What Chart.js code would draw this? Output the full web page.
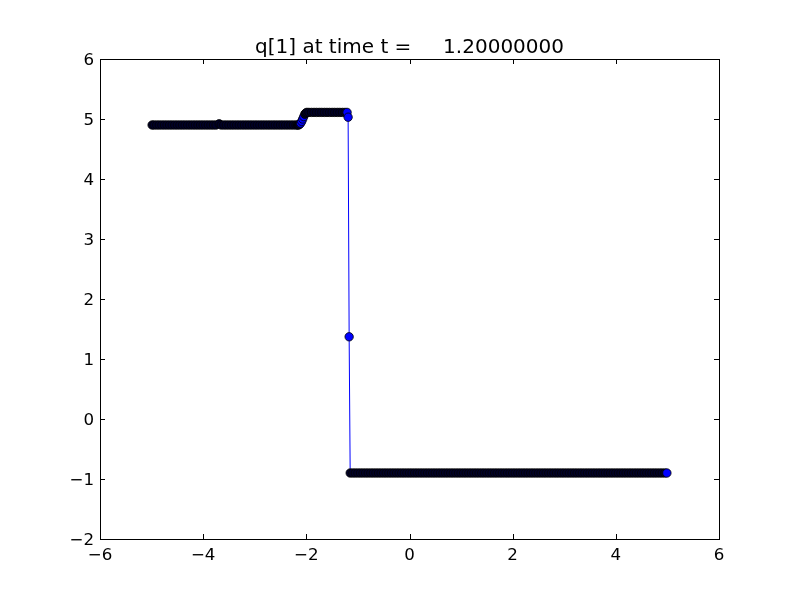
<!DOCTYPE html>
<html lang="en">
<head>
    <meta charset="UTF-8">
    <title>q[1] at time t</title>
    <script src="https://cdn.jsdelivr.net/npm/chart.js"></script>
    <style>
        body { margin: 0; background: #fff; }
        canvas { display: block; }
    </style>
</head>
<body>
    <canvas id="qChart" width="800" height="600"></canvas>

    <script>
        // title text as in the plot
        const titleText = "q[1] at time t =     1.20000000";

        // flat state on the left of the ramp
        const leftLevel = 4.90;
        const leftX = [-4.99, -4.95, -4.90, -4.85, -4.80, -4.75, -4.70, -4.65, -4.60, -4.55,
            -4.50, -4.45, -4.40, -4.35, -4.30, -4.25, -4.20, -4.15, -4.10, -4.05,
            -4.00, -3.95, -3.90, -3.85, -3.80, -3.75, -3.65, -3.60, -3.55,
            -3.50, -3.45, -3.40, -3.35, -3.30, -3.25, -3.20, -3.15, -3.10, -3.05,
            -3.00, -2.95, -2.90, -2.85, -2.80, -2.75, -2.70, -2.65, -2.60, -2.55,
            -2.50, -2.45, -2.40, -2.35, -2.30, -2.25, -2.20];

        // small bump, ramp up to the plateau, and the points inside the jump
        const featureX = [-3.69, -2.17, -2.15, -2.13, -2.11, -2.09, -2.07, -2.05, -2.03, -2.01, -1.19, -1.17];
        const featureY = [4.92, 4.90, 4.90, 4.91, 4.93, 4.96, 5.00, 5.04, 5.08, 5.10, 5.03, 1.37];

        // plateau between ramp and jump
        const plateauLevel = 5.11;
        const plateauX = [-1.99, -1.95, -1.90, -1.85, -1.80, -1.75, -1.70, -1.65, -1.60,
            -1.55, -1.50, -1.45, -1.40, -1.35, -1.30, -1.25, -1.21];

        // state right of the jump
        const rightLevel = -0.90;
        const rightX = [-1.15, -1.10, -1.05, -1.00, -0.95, -0.90, -0.85, -0.80, -0.75, -0.70,
            -0.65, -0.60, -0.55, -0.50, -0.45, -0.40, -0.35, -0.30, -0.25, -0.20,
            -0.15, -0.10, -0.05, 0.00, 0.05, 0.10, 0.15, 0.20, 0.25, 0.30,
            0.35, 0.40, 0.45, 0.50, 0.55, 0.60, 0.65, 0.70, 0.75, 0.80,
            0.85, 0.90, 0.95, 1.00, 1.05, 1.10, 1.15, 1.20, 1.25, 1.30,
            1.35, 1.40, 1.45, 1.50, 1.55, 1.60, 1.65, 1.70, 1.75, 1.80,
            1.85, 1.90, 1.95, 2.00, 2.05, 2.10, 2.15, 2.20, 2.25, 2.30,
            2.35, 2.40, 2.45, 2.50, 2.55, 2.60, 2.65, 2.70, 2.75, 2.80,
            2.85, 2.90, 2.95, 3.00, 3.05, 3.10, 3.15, 3.20, 3.25, 3.30,
            3.35, 3.40, 3.45, 3.50, 3.55, 3.60, 3.65, 3.70, 3.75, 3.80,
            3.85, 3.90, 3.95, 4.00, 4.05, 4.10, 4.15, 4.20, 4.25, 4.30,
            4.35, 4.40, 4.45, 4.50, 4.55, 4.60, 4.65, 4.70, 4.75, 4.80,
            4.85, 4.90, 4.95, 4.99];

        const xTicks = [-6, -4, -2, 0, 2, 4, 6];
        const yTicks = [-2, -1, 0, 1, 2, 3, 4, 5, 6];

        // build the point list
        let points = [];
        leftX.forEach(x => points.push({ x: x, y: leftLevel }));
        featureX.forEach((x, i) => points.push({ x: x, y: featureY[i] }));
        plateauX.forEach(x => points.push({ x: x, y: plateauLevel }));
        rightX.forEach(x => points.push({ x: x, y: rightLevel }));
        points.sort((a, b) => a.x - b.x);

        const fontFamily = "'DejaVu Sans', sans-serif";
        const minus = v => String(v).replace("-", "\u2212");

        // frame, inward ticks and title, matplotlib style
        const framePlugin = {
            id: 'frame',
            afterDraw(chart) {
                const c = chart.ctx;
                const a = chart.chartArea;
                const xs = chart.scales.x;
                const ys = chart.scales.y;
                c.save();
                c.strokeStyle = '#000';
                c.lineWidth = 1;
                c.beginPath();
                xTicks.forEach(v => {
                    const px = Math.round(xs.getPixelForValue(v)) + 0.5;
                    c.moveTo(px, a.bottom); c.lineTo(px, a.bottom - 5);
                    c.moveTo(px, a.top); c.lineTo(px, a.top + 5);
                });
                yTicks.forEach(v => {
                    const py = Math.round(ys.getPixelForValue(v)) + 0.5;
                    c.moveTo(a.left, py); c.lineTo(a.left + 5, py);
                    c.moveTo(a.right, py); c.lineTo(a.right - 5, py);
                });
                c.stroke();
                c.strokeRect(Math.round(a.left) + 0.5, Math.round(a.top) + 0.5,
                    Math.round(a.right - a.left), Math.round(a.bottom - a.top));

                c.fillStyle = '#000';
                c.font = "20px " + fontFamily;
                c.textAlign = 'center';
                c.textBaseline = 'alphabetic';
                c.fillText(titleText, (a.left + a.right) / 2, 53);
                c.restore();
            }
        };

        const ctx = document.getElementById('qChart').getContext('2d');
        const qChart = new Chart(ctx, {
            type: 'line',
            data: {
                datasets: [{
                    data: points,
                    borderColor: '#0000ff',
                    borderWidth: 1,
                    pointRadius: 4.2,
                    pointBorderWidth: 0.8,
                    pointBorderColor: '#000000',
                    pointBackgroundColor: function(context) {
                        const i = context.dataIndex;
                        const p = points[i];
                        const next = points[i + 1];
                        if (next && Math.abs(next.x - p.x) < 0.07 && Math.abs(next.y - p.y) < 0.03) {
                            return '#000028';
                        }
                        return '#0000ff';
                    },
                    tension: 0,
                    fill: false
                }]
            },
            options: {
                responsive: false,
                animation: false,
                layout: { padding: { left: 0, top: 59, right: 81, bottom: 0 } },
                plugins: {
                    legend: { display: false },
                    tooltip: { enabled: false },
                    title: { display: false }
                },
                scales: {
                    x: {
                        type: 'linear',
                        min: -6,
                        max: 6,
                        afterFit: scale => { scale.height = 61; },
                        afterBuildTicks: scale => { scale.ticks = xTicks.map(v => ({ value: v })); },
                        grid: { display: false, drawTicks: false },
                        border: { display: false },
                        ticks: {
                            padding: 7,
                            color: '#000',
                            font: { family: fontFamily, size: 16.67 },
                            maxRotation: 0,
                            callback: v => minus(v)
                        }
                    },
                    y: {
                        type: 'linear',
                        min: -2,
                        max: 6,
                        afterFit: scale => { scale.width = 100; },
                        afterBuildTicks: scale => { scale.ticks = yTicks.map(v => ({ value: v })); },
                        grid: { display: false, drawTicks: false },
                        border: { display: false },
                        ticks: {
                            padding: 6,
                            labelOffset: 1.5,
                            color: '#000',
                            font: { family: fontFamily, size: 16.67 },
                            callback: v => minus(v)
                        }
                    }
                }
            },
            plugins: [framePlugin]
        });
    </script>
</body>
</html>
